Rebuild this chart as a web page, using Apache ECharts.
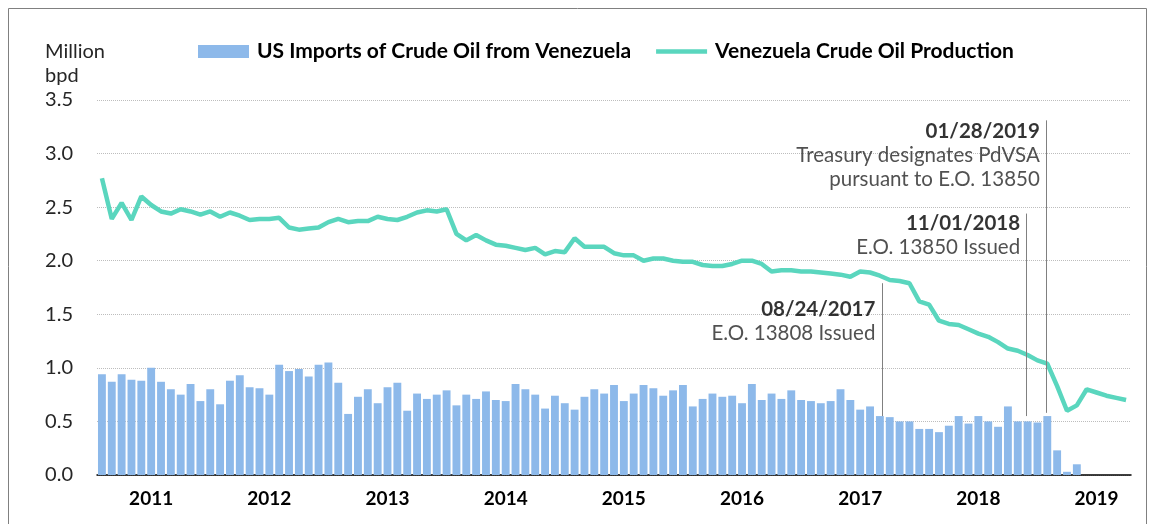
<!DOCTYPE html>
<html>
<head>
<meta charset="utf-8">
<script src="https://cdn.jsdelivr.net/npm/echarts@6/dist/echarts.min.js"></script>
<style>
  html, body { margin: 0; padding: 0; background: #fff; }
  #chart { width: 1156px; height: 524px; }
</style>
</head>
<body>
<div id="chart"></div>
<script>
// years shown on the x axis, one category per month
const years = ['2011', '2012', '2013', '2014', '2015', '2016', '2017', '2018', '2019'];
const monthsIn2019 = 9;

// US imports of crude oil from Venezuela, million bpd (Jan 2011 - Apr 2019)
const imports = [
  0.94, 0.87, 0.94, 0.89, 0.88, 1.00, 0.87, 0.80, 0.75, 0.85, 0.69, 0.80,
  0.66, 0.88, 0.93, 0.82, 0.81, 0.75, 1.03, 0.97, 0.99, 0.92, 1.03, 1.05,
  0.86, 0.57, 0.73, 0.80, 0.67, 0.82, 0.86, 0.60, 0.76, 0.71, 0.75, 0.79,
  0.65, 0.75, 0.71, 0.78, 0.70, 0.69, 0.85, 0.80, 0.75, 0.62, 0.74, 0.67,
  0.61, 0.73, 0.80, 0.76, 0.84, 0.69, 0.76, 0.84, 0.81, 0.74, 0.79, 0.84,
  0.64, 0.71, 0.76, 0.73, 0.74, 0.67, 0.85, 0.70, 0.76, 0.71, 0.79, 0.70,
  0.69, 0.67, 0.69, 0.80, 0.70, 0.61, 0.64, 0.55, 0.54, 0.50, 0.50, 0.43,
  0.43, 0.40, 0.46, 0.55, 0.48, 0.55, 0.50, 0.45, 0.64, 0.50, 0.50, 0.49,
  0.55, 0.23, 0.03, 0.10
];

// Venezuela crude oil production, million bpd (Jan 2011 - Sep 2019)
const production = [
  2.77, 2.39, 2.54, 2.38, 2.60, 2.52, 2.46, 2.44, 2.48, 2.46, 2.43, 2.46,
  2.41, 2.45, 2.42, 2.38, 2.39, 2.39, 2.40, 2.31, 2.29, 2.30, 2.31, 2.36,
  2.39, 2.36, 2.37, 2.37, 2.41, 2.39, 2.38, 2.41, 2.45, 2.47, 2.46, 2.48,
  2.25, 2.19, 2.24, 2.19, 2.15, 2.14, 2.12, 2.10, 2.12, 2.06, 2.09, 2.08,
  2.21, 2.13, 2.13, 2.13, 2.07, 2.05, 2.05, 2.00, 2.02, 2.02, 2.00, 1.99,
  1.99, 1.96, 1.95, 1.95, 1.97, 2.00, 2.00, 1.97, 1.90, 1.91, 1.91, 1.90,
  1.90, 1.89, 1.88, 1.87, 1.85, 1.90, 1.89, 1.86, 1.82, 1.81, 1.79, 1.62,
  1.59, 1.44, 1.41, 1.40, 1.36, 1.32, 1.29, 1.24, 1.18, 1.16, 1.12, 1.07,
  1.04, 0.83, 0.60, 0.65, 0.80, 0.77, 0.74, 0.72, 0.70
];

// annotations (position in months counted from Jan 2011)
const eventDates = ['08/24/2017', '11/01/2018', '01/28/2019'];
const eventNotes = ['E.O. 13808 Issued', 'E.O. 13850 Issued', 'Treasury designates PdVSA\npursuant to E.O. 13850'];
const eventMonth = [79.7, 94.4, 96.4];
const eventTop = [1.79, 2.44, 3.31];
const eventBottom = [0.55, 0.55, 0.58];
const eventTextY = [1.43, 2.24, 2.98];

const months = [];
years.forEach(function (y, i) {
  const n = i === years.length - 1 ? monthsIn2019 : 12;
  for (let m = 1; m <= n; m++) {
    months.push(y + '-' + (m < 10 ? '0' + m : m));
  }
});

const chart = echarts.init(document.getElementById('chart'));

chart.setOption({
  animation: false,
  textStyle: { fontFamily: 'Lato' },
  title: {
    text: 'Million\nbpd',
    left: 45,
    top: 40,
    padding: 0,
    textStyle: { fontSize: 20, fontWeight: 'normal', lineHeight: 24, color: '#262626' }
  },
  legend: {
    left: 198,
    top: 41,
    padding: 0,
    itemWidth: 51,
    itemHeight: 13,
    itemGap: 25,
    textStyle: { fontSize: 21, fontWeight: 'bold', color: '#000', padding: [0, 0, 0, 3] },
    data: [
      { name: 'US Imports of Crude Oil from Venezuela', icon: 'rect' },
      { name: 'Venezuela Crude Oil Production', icon: 'path://M0,0H51V4.5H0Z' }
    ]
  },
  graphic: [{
    type: 'rect',
    z: -10,
    shape: { x: 8.5, y: 8.5, width: 1138, height: 600 },
    style: { fill: 'none', stroke: '#808080', lineWidth: 1 }
  }],
  grid: { left: 97, right: 25, top: 100, bottom: 49 },
  xAxis: [{
    type: 'category',
    data: months,
    boundaryGap: true,
    axisLine: { lineStyle: { color: '#000', width: 1.5 } },
    axisTick: {
      length: 6,
      lineStyle: { color: '#000', width: 1.5 },
      interval: function (i) { return i % 12 === 0; }
    },
    axisLabel: {
      interval: function (i) { return i % 12 === 5; },
      formatter: function (v) { return v.slice(0, 4); },
      fontSize: 19,
      fontWeight: 'bold',
      color: '#000',
      margin: 14
    },
    splitLine: { show: false }
  }, {
    type: 'value',
    min: 0,
    max: months.length,
    show: false
  }],
  yAxis: {
    type: 'value',
    min: 0,
    max: 3.5,
    interval: 0.5,
    axisLine: { show: false },
    axisTick: { show: false },
    axisLabel: {
      fontSize: 20,
      color: '#262626',
      margin: 24,
      formatter: function (v) { return v.toFixed(1); }
    },
    splitLine: { lineStyle: { type: 'dotted', color: '#bdbdbd', width: 1 } }
  },
  series: [
    {
      name: 'US Imports of Crude Oil from Venezuela',
      type: 'bar',
      data: imports,
      barCategoryGap: '20%',
      itemStyle: { color: '#8DB9EA' }
    },
    {
      name: 'Venezuela Crude Oil Production',
      type: 'line',
      data: production,
      symbol: 'none',
      lineStyle: { color: '#5AD6BE', width: 4.5 },
      itemStyle: { color: '#5AD6BE' }
    },
    {
      name: 'events',
      type: 'scatter',
      xAxisIndex: 1,
      yAxisIndex: 0,
      symbolSize: 1,
      itemStyle: { color: 'rgba(0,0,0,0)' },
      silent: true,
      data: eventMonth.map(function (m, i) { return [m, eventTextY[i]]; }),
      label: {
        show: true,
        position: 'left',
        distance: 6,
        align: 'right',
        color: '#262626',
        formatter: function (p) {
          const i = p.dataIndex;
          const lines = eventNotes[i].split('\n').map(function (s) { return '{n|' + s + '}'; });
          return '{d|' + eventDates[i] + '}\n' + lines.join('\n');
        },
        rich: {
          d: { fontSize: 20.5, fontWeight: 'bold', lineHeight: 24, align: 'right', color: '#000' },
          n: { fontSize: 20.5, lineHeight: 24, align: 'right', color: '#262626' }
        }
      },
      markLine: {
        silent: true,
        symbol: 'none',
        label: { show: false },
        lineStyle: { color: '#808080', width: 1, type: 'solid' },
        data: eventMonth.map(function (m, i) {
          return [{ coord: [m, eventBottom[i]] }, { coord: [m, eventTop[i]] }];
        })
      }
    }
  ]
});
</script>
</body>
</html>
